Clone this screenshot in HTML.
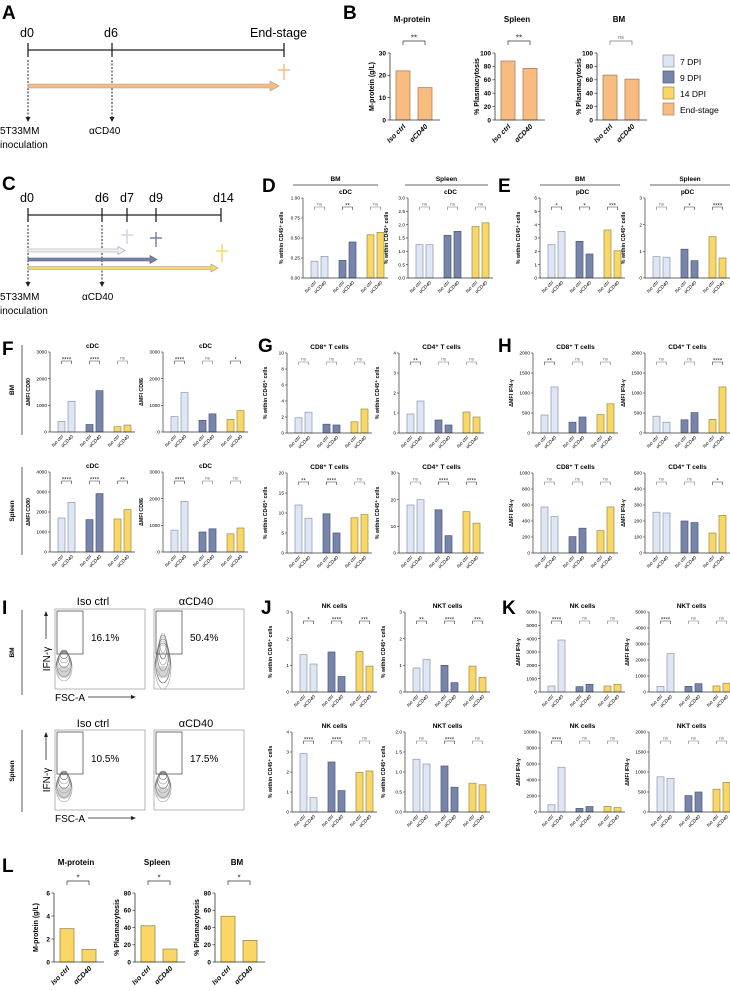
<!DOCTYPE html>
<html><head><meta charset="utf-8"><style>
html,body{margin:0;padding:0;background:#fff}
svg{display:block;font-family:"Liberation Sans",sans-serif}
</style></head><body>
<svg id="fig" width="730" height="991" viewBox="0 0 730 991" xmlns="http://www.w3.org/2000/svg"></svg>
<script>
// ---- data ----
const pairLabels = ["Iso ctrl","αCD40"];
const bMprot = [22, 14.5];
const bSpleen = [88, 77];
const bBM = [67, 61];
const bSig = ["**","**","ns"];
const dBmCdc = [0.21,0.27,0.22,0.45,0.54,0.57];
const dBmSig = ["ns","**","ns"];
const dSpCdc = [1.25,1.25,1.6,1.75,1.93,2.07];
const dSpSig = ["ns","ns","ns"];
const eBmPdc = [2.5,3.5,2.75,1.8,3.6,2.05];
const eBmSig = ["*","*","***"];
const eSpPdc = [0.8,0.78,1.08,0.65,1.55,0.75];
const eSpSig = ["ns","*","****"];
const fBmCd80 = [400,1150,280,1550,200,260];
const fBmCd80Sig = ["****","****","ns"];
const fBmCd86 = [580,1480,440,680,470,800];
const fBmCd86Sig = ["****","ns","*"];
const fSpCd80 = [1700,2480,1620,2920,1650,2120];
const fSpCd80Sig = ["****","****","**"];
const fSpCd86 = [820,1900,750,870,680,900];
const fSpCd86Sig = ["****","ns","ns"];
const gBmCd8 = [1.9,2.6,1.1,1.0,1.4,3.0];
const gBmCd8Sig = ["ns","ns","ns"];
const gBmCd4 = [0.95,1.6,0.65,0.4,1.05,0.8];
const gBmCd4Sig = ["**","ns","ns"];
const gSpCd8 = [12,8.7,9.8,5.0,8.8,9.6];
const gSpCd8Sig = ["**","****","ns"];
const gSpCd4 = [18,20,16.2,6.5,15.5,11.2];
const gSpCd4Sig = ["ns","****","****"];
const hBmCd8 = [450,1150,270,400,460,730];
const hBmCd8Sig = ["**","ns","ns"];
const hBmCd4 = [420,270,330,510,340,1150];
const hBmCd4Sig = ["ns","ns","****"];
const hSpCd8 = [575,455,205,310,280,575];
const hSpCd8Sig = ["ns","ns","ns"];
const hSpCd4 = [255,250,200,190,125,235];
const hSpCd4Sig = ["ns","ns","*"];
const jBmNk = [1.4,1.05,1.5,0.58,1.52,0.97];
const jBmNkSig = ["*","****","***"];
const jBmNkt = [0.9,1.22,1.0,0.35,0.97,0.55];
const jBmNktSig = ["**","****","***"];
const kBmNk = [450,3900,400,580,450,580];
const kBmNkSig = ["****","ns","ns"];
const kBmNkt = [350,2400,350,520,380,550];
const kBmNktSig = ["****","ns","ns"];
const jSpNk = [2.92,0.72,2.5,1.07,1.98,2.05];
const jSpNkSig = ["****","****","ns"];
const jSpNkt = [1.32,1.2,1.15,0.62,0.72,0.68];
const jSpNktSig = ["ns","****","ns"];
const kSpNk = [900,5600,450,680,700,550];
const kSpNkSig = ["****","ns","ns"];
const kSpNkt = [880,840,410,500,570,740];
const kSpNktSig = ["ns","ns","ns"];
const lMprot = [2.9,1.1];
const lSpleen = [42,15];
const lBM = [53,25];
const lSig = ["*","*","*"];
const legendLabels = ["7 DPI","9 DPI","14 DPI","End-stage"];

// ---- helpers ----
const NS="http://www.w3.org/2000/svg";
const svg=document.getElementById('fig');
function mk(tag,a,p){const e=document.createElementNS(NS,tag);for(const k in a)e.setAttribute(k,a[k]);(p||svg).appendChild(e);return e;}
function tx(s,x,y,a,p){const t=mk('text',Object.assign({x:x,y:y},a||{}),p);t.textContent=s;return t;}
const FILL=["#dde6f2","#dde6f2","#7885ab","#7885ab","#f9d766","#f9d766"];
const STROKE=["#8d97ad","#8d97ad","#4c5779","#4c5779","#9b8b4a","#9b8b4a"];
const OFFS=[8,18,36,46,64,74];

function groupChart(c){
  const g=mk('g',{});
  
  
  const bot=c.top+c.h, W=85;
  const ys=v=>bot-v/c.max*c.h;
  const t=tx(c.title,c.x0+W/2,c.top-4,{'font-size':6.5,'font-weight':'bold','text-anchor':'middle'},g);
  
  
  const yl=tx(c.ylab,0,0,{'font-size':5.3,'font-weight':'bold','text-anchor':'middle',transform:`translate(${c.x0-20},${c.top+c.h/2}) rotate(-90)`},g);
  
  
  c.vals.forEach((v,i)=>{
    const r=mk('rect',{x:c.x0+OFFS[i],y:ys(v),width:7,height:bot-ys(v),fill:FILL[i],stroke:STROKE[i],'stroke-width':0.7},g);
    
    
    const cx=c.x0+OFFS[i]+3.5;
    const xl=tx(pairLabels[i%2],cx+2,bot+5,{'font-size':4.8,'font-style':'italic','text-anchor':'end',transform:`rotate(-45 ${cx+2} ${bot+5})`},g);
    
    
  });
  mk('line',{x1:c.x0,y1:c.top,x2:c.x0,y2:bot,stroke:'#333','stroke-width':0.7},g);
  mk('line',{x1:c.x0,y1:bot,x2:c.x0+W,y2:bot,stroke:'#333','stroke-width':0.7},g);
  for(let k=0;k<c.ticks.length;k++){
    const v=c.ticks[k], y=ys(v);
    mk('line',{x1:c.x0-2,y1:y,x2:c.x0,y2:y,stroke:'#333','stroke-width':0.6},g);
    const tl=tx(c.tickLabels[k],c.x0-3,y+1.7,{'font-size':4.8,'text-anchor':'end'},g);
    
    
  }
  c.sig.forEach((s,j)=>{
    const a=c.x0+OFFS[2*j]+3.5,b=c.x0+OFFS[2*j+1]+3.5,y=c.top+9;
    const p=mk('path',{d:`M${a} ${y+3}V${y}H${b}V${y+3}`,fill:'none',stroke:s==='ns'?'#777':'#333','stroke-width':0.6},g);
    
    
    tx(s,(a+b)/2,s==='ns'?y-1.5:y+0.5,{'font-size':s==='ns'?4.5:6,'text-anchor':'middle',fill:s==='ns'?'#666':'#222'},g);
  });
}
function pairChart(c){
  const g=mk('g',{});
  
  
  const bot=c.top+c.h, W=50;
  const ys=v=>bot-v/c.max*c.h;
  const offs=[6,28];
  tx(c.title,c.x0+22,c.tt,{'font-size':8,'font-weight':'bold','text-anchor':'middle'},g);
  const yl=tx(c.ylab,0,0,{'font-size':7,'font-weight':'bold','text-anchor':'middle',transform:`translate(${c.x0-16},${c.top+c.h/2}) rotate(-90)`},g);
  
  
  c.vals.forEach((v,i)=>{
    const r=mk('rect',{x:c.x0+offs[i],y:ys(v),width:14,height:bot-ys(v),fill:c.fill,stroke:c.stroke,'stroke-width':0.8},g);
    
    
    const cx=c.x0+offs[i]+7;
    const xl=tx(pairLabels[i],cx+3,bot+7,{'font-size':7,'font-weight':'bold','font-style':'italic','text-anchor':'end',transform:`rotate(-45 ${cx+3} ${bot+7})`},g);
    
    
  });
  mk('line',{x1:c.x0,y1:c.top,x2:c.x0,y2:bot,stroke:'#333','stroke-width':0.8},g);
  mk('line',{x1:c.x0,y1:bot,x2:c.x0+W,y2:bot,stroke:'#333','stroke-width':0.8},g);
  c.ticks.forEach((v,k)=>{
    const y=ys(v);
    mk('line',{x1:c.x0-2.5,y1:y,x2:c.x0,y2:y,stroke:'#333','stroke-width':0.7},g);
    tx(c.tickLabels[k],c.x0-4,y+2.3,{'font-size':6.5,'font-weight':'bold','text-anchor':'end'},g);
  });
  const a=c.x0+offs[0]+7,b=c.x0+offs[1]+7,y=c.top-12;
  mk('path',{d:`M${a} ${y+4}V${y}H${b}V${y+4}`,fill:'none',stroke:c.sig==='ns'?'#777':'#333','stroke-width':0.7},g);
  tx(c.sig,(a+b)/2,c.sig==='ns'?y-2:y-0.5,{'font-size':c.sig==='ns'?5.5:8,'text-anchor':'middle',fill:c.sig==='ns'?'#666':'#222'},g);
}
function label(s,x,y){const t=tx(s,x,y,{'font-size':19,'font-weight':'bold'});
  
  }

// ---- A ----
label('A',2,19);label('B',343,19);label('C',2,190);label('D',262,192);label('E',498,192);
label('F',2,355);label('G',258,352);label('H',498,352);label('I',2,614);label('J',261,614);label('K',502,614);label('L',2,872);

const T={'font-size':12.5,'font-family':'Liberation Sans Narrow, Liberation Sans, sans-serif'};
tx('d0',20,37,T);tx('d6',104,37,T);tx('End-stage',250,37,T);
mk('line',{x1:28,y1:50,x2:284,y2:50,stroke:'#222','stroke-width':1.3});
[28,112,284].forEach(x=>mk('line',{x1:x,y1:43,x2:x,y2:57,stroke:'#222','stroke-width':1.3}));
[28,112].forEach(x=>{mk('line',{x1:x,y1:60,x2:x,y2:118,stroke:'#222','stroke-width':1,'stroke-dasharray':'2 1.5'});mk('path',{d:`M${x-2.5} 117L${x+2.5} 117L${x} 122Z`,fill:'#222'});});
mk('path',{d:'M28 84H270V81L279 86L270 91V88H28Z',fill:'#f8bb80',stroke:'#999','stroke-width':0.6});
mk('path',{d:'M284 64V80M278 70H290',stroke:'#f8bb80','stroke-width':1.5,fill:'none'});
tx('5T33MM',0,134,{'font-size':10});tx('inoculation',0,148,{'font-size':10});tx('αCD40',89,134,{'font-size':10});

// ---- B ----
pairChart({name:'b-mprotein-chart',x0:390,top:53,h:67,tt:22,max:30,ticks:[0,10,20,30],tickLabels:["0","10","20","30"],vals:bMprot,sig:bSig[0],title:'M-protein',ylab:'M-protein (g/L)',fill:'#f8bb80',stroke:'#a8825f'});
pairChart({name:'b-spleen-chart',x0:495,top:53,h:67,tt:22,max:100,ticks:[0,20,40,60,80,100],tickLabels:["0","20","40","60","80","100"],vals:bSpleen,sig:bSig[1],title:'Spleen',ylab:'% Plasmacytosis',fill:'#f8bb80',stroke:'#a8825f'});
pairChart({name:'b-bm-chart',x0:597,top:53,h:67,tt:22,max:100,ticks:[0,20,40,60,80,100],tickLabels:["0","20","40","60","80","100"],vals:bBM,sig:bSig[2],title:'BM',ylab:'% Plasmacytosis',fill:'#f8bb80',stroke:'#a8825f'});
const LF=['#dde6f2','#7885ab','#f9d766','#f8bb80'],LS=['#8d97ad','#4c5779','#9b8b4a','#a8825f'];
legendLabels.forEach((s,i)=>{
  const r=mk('rect',{x:663,y:55+i*16,width:11,height:12,fill:LF[i],stroke:LS[i],'stroke-width':0.7});
  
  
  const t=tx(s,680,65+i*16,{'font-size':8.5});
  
  
});

// ---- C ----
tx('d0',20,202,T);tx('d6',95,202,T);tx('d7',120,202,T);tx('d9',149,202,T);tx('d14',213,202,T);
mk('line',{x1:28,y1:215,x2:221,y2:215,stroke:'#222','stroke-width':1.3});
[28,102,127,156,221].forEach(x=>mk('line',{x1:x,y1:208,x2:x,y2:222,stroke:'#222','stroke-width':1.3}));
[28,102].forEach(x=>{mk('line',{x1:x,y1:225,x2:x,y2:283,stroke:'#222','stroke-width':1,'stroke-dasharray':'2 1.5'});mk('path',{d:`M${x-2.5} 282L${x+2.5} 282L${x} 287Z`,fill:'#222'});});
mk('path',{d:'M28 249H118V246.5L125 250.5L118 254.5V252H28Z',fill:'#eef2f8',stroke:'#999','stroke-width':0.6});
mk('path',{d:'M28 258H150V255.5L157 259.5L150 263.5V261H28Z',fill:'#7885ab',stroke:'#555','stroke-width':0.6});
mk('path',{d:'M28 266.5H211V264L218 268L211 272V269.5H28Z',fill:'#f9d766',stroke:'#999','stroke-width':0.6});
mk('path',{d:'M127 229V244M121 235H133',stroke:'#c9d6ea','stroke-width':1.5});
mk('path',{d:'M156 232V247M150 238H162',stroke:'#7885ab','stroke-width':1.5});
mk('path',{d:'M222 244V262M216 251H228',stroke:'#f9d766','stroke-width':1.5});
tx('5T33MM',0,300,{'font-size':10});tx('inoculation',0,314,{'font-size':10});tx('αCD40',82,300,{'font-size':10});

// ---- D/E headers ----
function header(s,x1,x2){mk('line',{x1:x1,y1:185,x2:x2,y2:185,stroke:'#333','stroke-width':0.8});tx(s,(x1+x2)/2,181,{'font-size':6.5,'font-weight':'bold','text-anchor':'middle'});}
header('BM',293,378);header('Spleen',405,488);header('BM',540,620);header('Spleen',650,730);
const pct='% within CD45⁺ cells';
groupChart({name:'d-bm-cdc-chart',x0:303,top:198,h:80,max:1,ticks:[0,0.25,0.5,0.75,1],tickLabels:["0.00","0.25","0.50","0.75","1.00"],vals:dBmCdc,sig:dBmSig,title:'cDC',ylab:pct});
groupChart({name:'d-spleen-cdc-chart',x0:408,top:198,h:80,max:3,ticks:[0,0.5,1,1.5,2,2.5,3],tickLabels:["0.0","0.5","1.0","1.5","2.0","2.5","3.0"],vals:dSpCdc,sig:dSpSig,title:'cDC',ylab:pct});
groupChart({name:'e-bm-pdc-chart',x0:540,top:198,h:80,max:6,ticks:[0,1,2,3,4,5,6],tickLabels:["0","1","2","3","4","5","6"],vals:eBmPdc,sig:eBmSig,title:'pDC',ylab:pct});
groupChart({name:'e-spleen-pdc-chart',x0:645,top:198,h:80,max:3,ticks:[0,1,2,3],tickLabels:["0","1","2","3"],vals:eSpPdc,sig:eSpSig,title:'pDC',ylab:pct});

// ---- F ----
function rowLabel(s,y1,y2){mk('line',{x1:22,y1:y1,x2:22,y2:y2,stroke:'#333','stroke-width':0.8});tx(s,0,0,{'font-size':6.5,'font-weight':'bold','text-anchor':'middle',transform:`translate(14,${(y1+y2)/2}) rotate(-90)`});}
rowLabel('BM',345,435);rowLabel('Spleen',467,555);
const k3=[0,1000,2000,3000],k3l=["0","1000","2000","3000"];
groupChart({name:'f-bm-cd80-chart',x0:50,top:352,h:80,max:3000,ticks:k3,tickLabels:k3l,vals:fBmCd80,sig:fBmCd80Sig,title:'cDC',ylab:'ΔMFI CD80'});
groupChart({name:'f-bm-cd86-chart',x0:163,top:352,h:80,max:3000,ticks:k3,tickLabels:k3l,vals:fBmCd86,sig:fBmCd86Sig,title:'cDC',ylab:'ΔMFI CD86'});
groupChart({name:'f-spleen-cd80-chart',x0:50,top:472,h:80,max:4000,ticks:[0,1000,2000,3000,4000],tickLabels:["0","1000","2000","3000","4000"],vals:fSpCd80,sig:fSpCd80Sig,title:'cDC',ylab:'ΔMFI CD80'});
groupChart({name:'f-spleen-cd86-chart',x0:163,top:472,h:80,max:3000,ticks:k3,tickLabels:k3l,vals:fSpCd86,sig:fSpCd86Sig,title:'cDC',ylab:'ΔMFI CD86'});

// ---- G/H ----
groupChart({name:'g-bm-cd8-chart',x0:287,top:353,h:80,max:10,ticks:[0,2,4,6,8,10],tickLabels:["0","2","4","6","8","10"],vals:gBmCd8,sig:gBmCd8Sig,title:'CD8⁺ T cells',ylab:pct});
groupChart({name:'g-bm-cd4-chart',x0:399,top:353,h:80,max:4,ticks:[0,1,2,3,4],tickLabels:["0","1","2","3","4"],vals:gBmCd4,sig:gBmCd4Sig,title:'CD4⁺ T cells',ylab:pct});
groupChart({name:'g-spleen-cd8-chart',x0:287,top:473,h:80,max:20,ticks:[0,5,10,15,20],tickLabels:["0","5","10","15","20"],vals:gSpCd8,sig:gSpCd8Sig,title:'CD8⁺ T cells',ylab:pct});
groupChart({name:'g-spleen-cd4-chart',x0:399,top:473,h:80,max:30,ticks:[0,10,20,30],tickLabels:["0","10","20","30"],vals:gSpCd4,sig:gSpCd4Sig,title:'CD4⁺ T cells',ylab:pct});
const k2=[0,500,1000,1500,2000],k2l=["0","500","1000","1500","2000"];
groupChart({name:'h-bm-cd8-chart',x0:533,top:353,h:80,max:2000,ticks:k2,tickLabels:k2l,vals:hBmCd8,sig:hBmCd8Sig,title:'CD8⁺ T cells',ylab:'ΔMFI IFN-γ'});
groupChart({name:'h-bm-cd4-chart',x0:645,top:353,h:80,max:2000,ticks:k2,tickLabels:k2l,vals:hBmCd4,sig:hBmCd4Sig,title:'CD4⁺ T cells',ylab:'ΔMFI IFN-γ'});
groupChart({name:'h-spleen-cd8-chart',x0:533,top:473,h:80,max:1000,ticks:[0,200,400,600,800,1000],tickLabels:["0","200","400","600","800","1000"],vals:hSpCd8,sig:hSpCd8Sig,title:'CD8⁺ T cells',ylab:'ΔMFI IFN-γ'});
groupChart({name:'h-spleen-cd4-chart',x0:645,top:473,h:80,max:500,ticks:[0,100,200,300,400,500],tickLabels:["0","100","200","300","400","500"],vals:hSpCd4,sig:hSpCd4Sig,title:'CD4⁺ T cells',ylab:'ΔMFI IFN-γ'});

// ---- J/K ----
groupChart({name:'j-bm-nk-chart',x0:292,top:612,h:80,max:3,ticks:[0,1,2,3],tickLabels:["0","1","2","3"],vals:jBmNk,sig:jBmNkSig,title:'NK cells',ylab:pct});
groupChart({name:'j-bm-nkt-chart',x0:405,top:612,h:80,max:3,ticks:[0,1,2,3],tickLabels:["0","1","2","3"],vals:jBmNkt,sig:jBmNktSig,title:'NKT cells',ylab:pct});
groupChart({name:'k-bm-nk-chart',x0:540,top:612,h:80,max:6000,ticks:[0,1000,2000,3000,4000,5000,6000],tickLabels:["0","1000","2000","3000","4000","5000","6000"],vals:kBmNk,sig:kBmNkSig,title:'NK cells',ylab:'ΔMFI IFN-γ'});
groupChart({name:'k-bm-nkt-chart',x0:649,top:612,h:80,max:5000,ticks:[0,1000,2000,3000,4000,5000],tickLabels:["0","1000","2000","3000","4000","5000"],vals:kBmNkt,sig:kBmNktSig,title:'NKT cells',ylab:'ΔMFI IFN-γ'});
groupChart({name:'j-spleen-nk-chart',x0:292,top:732,h:80,max:4,ticks:[0,1,2,3,4],tickLabels:["0","1","2","3","4"],vals:jSpNk,sig:jSpNkSig,title:'NK cells',ylab:pct});
groupChart({name:'j-spleen-nkt-chart',x0:405,top:732,h:80,max:2,ticks:[0,0.5,1,1.5,2],tickLabels:["0.0","0.5","1.0","1.5","2.0"],vals:jSpNkt,sig:jSpNktSig,title:'NKT cells',ylab:pct});
groupChart({name:'k-spleen-nk-chart',x0:540,top:732,h:80,max:10000,ticks:[0,2000,4000,6000,8000,10000],tickLabels:["0","2000","4000","6000","8000","10000"],vals:kSpNk,sig:kSpNkSig,title:'NK cells',ylab:'ΔMFI IFN-γ'});
groupChart({name:'k-spleen-nkt-chart',x0:649,top:732,h:80,max:2000,ticks:[0,500,1000,1500,2000],tickLabels:["0","500","1000","1500","2000"],vals:kSpNkt,sig:kSpNktSig,title:'NKT cells',ylab:'ΔMFI IFN-γ'});

// ---- I (flow plots) ----
rowLabel('BM',610,695);rowLabel('Spleen',730,812);
function flow(x,y,pct,strong,gh){
  const g=mk('g',{});
  
  
  mk('rect',{x:x,y:y,width:90,height:80,fill:'#fff',stroke:'#999','stroke-width':0.7},g);
  const cx=x+9,cy=y+58;
  for(let i=0;i<7;i++){
    mk('ellipse',{cx:cx,cy:cy-i*(strong?4:2.5),rx:8-i*0.8,ry:(strong?22:14)-i*2,fill:'none',stroke:i%2?'#555':'#999','stroke-width':0.6},g);
  }
  mk('ellipse',{cx:cx,cy:cy+5,rx:7,ry:6,fill:'#aaa',opacity:0.5},g);
  mk('rect',{x:x+2,y:y+2,width:26,height:gh,fill:'none',stroke:'#555','stroke-width':0.8},g);
  tx(pct,x+36,y+32,{'font-size':10},g);
}
tx('Iso ctrl',93,605,{'font-size':11,'text-anchor':'middle'});tx('αCD40',196,605,{'font-size':11,'text-anchor':'middle'});
flow(55,609,'16.1%',false,43);flow(154,609,'50.4%',true,43);
tx('Iso ctrl',93,727,{'font-size':11,'text-anchor':'middle'});tx('αCD40',196,727,{'font-size':11,'text-anchor':'middle'});
flow(55,730,'10.5%',false,42);flow(154,730,'17.5%',false,42);
function axesLab(y){
  tx('IFN-γ',0,0,{'font-size':10,'text-anchor':'middle',transform:`translate(50,${y+50}) rotate(-90)`});
  mk('line',{x1:46,y1:y+30,x2:46,y2:y+6,stroke:'#222','stroke-width':0.8});
  mk('path',{d:`M44 ${y+7}L48 ${y+7}L46 ${y+2}Z`,fill:'#222'});
  tx('FSC-A',55,y+92,{'font-size':10});
  mk('line',{x1:88,y1:y+88,x2:132,y2:y+88,stroke:'#222','stroke-width':0.8});
  mk('path',{d:`M131 ${y+86}L131 ${y+90}L136 ${y+88}Z`,fill:'#222'});
}
axesLab(609);axesLab(730);

// ---- L ----
pairChart({name:'l-mprotein-chart',x0:54,top:893,h:69,tt:865,max:6,ticks:[0,2,4,6],tickLabels:["0","2","4","6"],vals:lMprot,sig:lSig[0],title:'M-protein',ylab:'M-protein (g/L)',fill:'#f9d766',stroke:'#9b8b4a'});
pairChart({name:'l-spleen-chart',x0:135,top:893,h:69,tt:865,max:80,ticks:[0,20,40,60,80],tickLabels:["0","20","40","60","80"],vals:lSpleen,sig:lSig[1],title:'Spleen',ylab:'% Plasmacytosis',fill:'#f9d766',stroke:'#9b8b4a'});
pairChart({name:'l-bm-chart',x0:215,top:893,h:69,tt:865,max:80,ticks:[0,20,40,60,80],tickLabels:["0","20","40","60","80"],vals:lBM,sig:lSig[2],title:'BM',ylab:'% Plasmacytosis',fill:'#f9d766',stroke:'#9b8b4a'});
</script>
</body></html>
